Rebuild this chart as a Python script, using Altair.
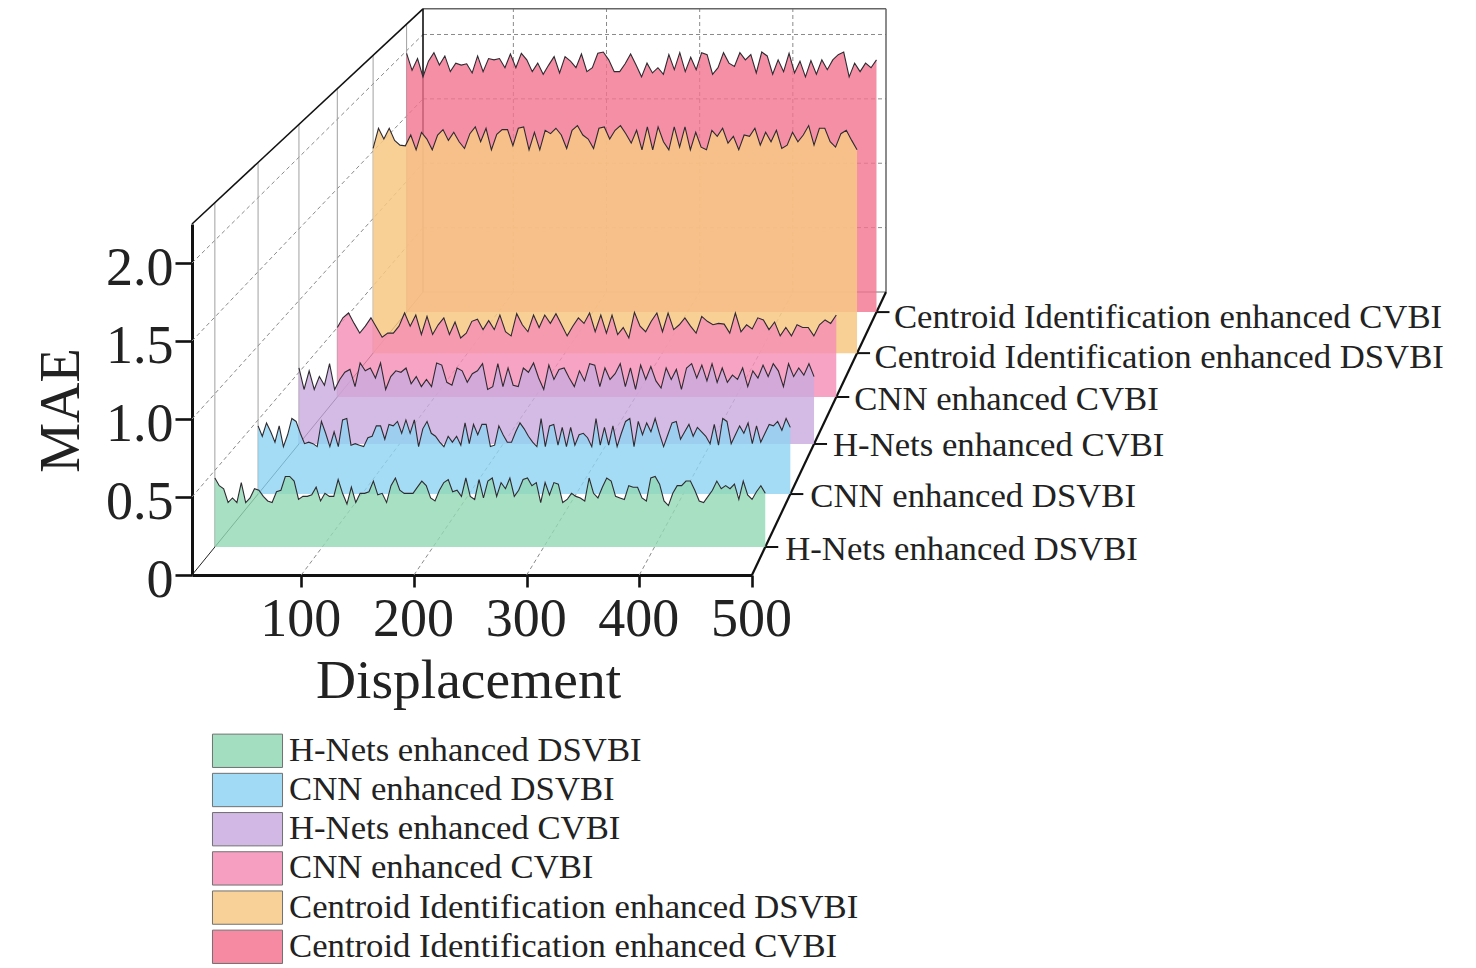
import altair as alt
import pandas as pd

names = ["H-Nets enhanced DSVBI", "CNN enhanced DSVBI", "H-Nets enhanced CVBI",
         "CNN enhanced CVBI", "Centroid Identification enhanced DSVBI",
         "Centroid Identification enhanced CVBI"]
colors = ["#92d8b5", "#8fd3f3", "#c9aadf", "#f58cb5", "#f7c884", "#f37390"]
fill_opacity = [0.8, 0.8, 0.8, 0.8, 0.85, 0.8]

green = [.45,.40,.38,.29,.32,.29,.42,.29,.32,.38,.37,.33,.30,.29,.36,.37,.46,.46,.43,.31,.33,.33,.34,.39,.30,.35,.33,.33,.44,.35,.28,.39,.29,.35,.35,.36,.43,.34,.35,.29,.40,.45,.37,.35,.35,.35,.39,.43,.40,.32,.30,.37,.42,.44,.36,.37,.33,.45,.33,.31,.44,.32,.43,
         .45,.33,.42,.38,.45,.33,.37,.44,.45,.40,.42,.29,.42,.34,.42,.41,.29,.31,.35,.33,.32,.30,.45,.35,.32,.39,.45,.43,.33,.32,.31,.40,.39,.39,.32,.30,.45,.46,.41,.30,.27,.35,.40,.40,.43,.43,.37,.30,.29,.33,.37,.43,.38,.40,.38,.41,.31,.43,.34,.31,.36,.40,.35]
blue = [.46,.39,.48,.42,.35,.46,.32,.40,.51,.49,.41,.34,.35,.34,.32,.49,.41,.32,.42,.32,.50,.51,.33,.34,.33,.32,.38,.39,.46,.46,.37,.47,.46,.49,.41,.50,.41,.50,.32,.44,.49,.41,.39,.35,.32,.39,.35,.39,.33,.48,.34,.47,.40,.47,.47,.32,.33,.46,.40,.35,.35,.42,.48,.44,.39,.35,.32,.51,.32,.46,.47,.33,.45,.32,.45,.33,.40,.41,.38,.32,.51,.33,.45,.33,.46,.32,.41,.49,.51,.32,.49,.40,.48,.42,.51,.41,.32,.40,.48,.49,.37,.42,.47,.39,.45,.42,.39,.34,.47,.33,.51,.49,.34,.40,.46,.41,.48,.34,.46,.35,.41,.47,.46,.49,.43,.51,.45]
purple = [.53,.38,.51,.38,.47,.41,.56,.38,.45,.50,.52,.40,.565,.51,.53,.46,.565,.38,.47,.51,.50,.53,.42,.47,.40,.45,.40,.565,.55,.43,.41,.53,.51,.43,.49,.51,.56,.38,.40,.56,.40,.53,.41,.40,.53,.50,.565,.46,.38,.55,.45,.52,.53,.46,.40,.51,.44,.56,.55,.40,.53,.45,.49,.56,.40,.53,.38,.55,.45,.54,.44,.39,.53,.45,.52,.38,.53,.56,.46,.55,.44,.56,.43,.53,.43,.48,.45,.53,.40,.51,.46,.55,.47,.56,.51,.40,.56,.47,.53,.48,.56,.47]
pink = [.50,.57,.605,.53,.46,.51,.57,.50,.43,.46,.46,.51,.605,.51,.59,.45,.58,.45,.52,.57,.45,.54,.425,.46,.545,.56,.485,.55,.485,.59,.47,.44,.60,.52,.47,.59,.50,.59,.53,.60,.52,.44,.51,.57,.53,.605,.47,.59,.46,.59,.45,.50,.425,.61,.51,.47,.545,.605,.47,.605,.485,.52,.57,.51,.46,.58,.545,.52,.53,.525,.46,.605,.47,.52,.49,.57,.555,.485,.54,.44,.50,.44,.52,.50,.50,.44,.52,.555,.53,.59]
orange = [1.52,1.67,1.59,1.67,1.58,1.545,1.54,1.62,1.51,1.64,1.59,1.51,1.62,1.66,1.58,1.64,1.57,1.52,1.63,1.68,1.57,1.67,1.51,1.625,1.66,1.66,1.54,1.67,1.68,1.51,1.64,1.51,1.655,1.63,1.67,1.62,1.52,1.655,1.69,1.62,1.59,1.52,1.67,1.68,1.59,1.655,1.69,1.63,1.56,1.655,1.51,1.68,1.51,1.68,1.57,1.51,1.68,1.53,1.68,1.51,1.64,1.53,1.51,1.655,1.61,1.67,1.56,1.61,1.51,1.62,1.61,1.67,1.545,1.64,1.57,1.655,1.52,1.545,1.64,1.57,1.62,1.69,1.545,1.67,1.67,1.57,1.53,1.63,1.655,1.58,1.51]
red = [1.98,1.85,1.94,1.80,1.92,1.985,1.89,1.96,1.84,1.905,1.89,1.90,1.83,1.96,1.84,1.94,1.93,1.94,1.87,1.975,1.87,1.98,1.93,1.84,1.905,1.82,1.89,1.955,1.83,1.955,1.92,1.87,1.975,1.84,1.87,1.98,1.99,1.93,1.84,1.84,1.90,1.975,1.89,1.80,1.905,1.83,1.87,1.82,1.97,1.855,1.985,1.84,1.95,1.855,1.985,1.97,1.82,1.87,1.985,1.905,1.88,1.985,1.93,1.97,1.83,1.99,1.96,1.82,1.93,1.84,1.98,1.83,1.92,1.80,1.925,1.82,1.93,1.855,1.93,1.97,1.99,1.80,1.905,1.84,1.905,1.87,1.93]
series_values = [green, blue, purple, pink, orange, red]

x_ticks = [100, 200, 300, 400, 500]
y_ticks = [0, 0.5, 1.0, 1.5, 2.0]

# view geometry (page pixels) of the oblique box
W, H = 1460, 960
D0, D1, M1 = 3, 500, 2.25
depths = [0.099, 0.286, 0.463, 0.629, 0.784, 0.929]
label_dx = [20, 20, 19, 18, 17.5, 17.5]
label_dy = [3, 3, 2, 3, 5, 6]
TOP = 0.8  # the page margin hides anything above this, so the wall tops end here

def xl(t): return 184 + 231 * t
def xr(t): return 744 + 134 * t
def yf(t): return 567 - 283 * t
def hh(t): return 351 - 61.3 * t
def P(d, m, t):
    return (xl(t) + (d - D0) / (D1 - D0) * (xr(t) - xl(t)), yf(t) - m / M1 * hh(t))
def Q(d, t):
    y0 = yf(0) - hh(0)
    return (P(d, 0, t)[0], y0 + (TOP - y0) * t)

def seg(a, b):
    return {"x": a[0], "y": a[1], "x2": b[0], "y2": b[1]}

sx = alt.Scale(domain=[0, W], range=[0, W])
sy = alt.Scale(domain=[0, H], range=[0, H])

def rules(segments, **style):
    return alt.Chart(pd.DataFrame(segments)).mark_rule(**style).encode(
        x=alt.X("x:Q", scale=sx, axis=None), y=alt.Y("y:Q", scale=sy, axis=None),
        x2="x2:Q", y2="y2:Q")

inner_m = [0.5, 1.0, 1.5, 2.0]
inner_d = [100, 200, 300, 400]
dash = dict(strokeDash=[4, 3], strokeWidth=1)
layers = [
    rules([seg(P(D0, m, 1), P(D1, m, 1)) for m in inner_m] +
          [seg(P(d, 0, 1), Q(d, 1)) for d in inner_d], color="#8a8a8a", **dash),
    rules([seg(P(D0, m, 0), P(D0, m, 1)) for m in inner_m] +
          [seg(P(d, 0, 0), P(d, 0, 1)) for d in inner_d], color="#8a8a8a", **dash),
    rules([seg(P(D0, 0, t), Q(D0, t)) for t in depths], color="#a0a0a0", strokeWidth=1),
    rules([seg(Q(D0, 1), Q(D1, 1)), seg(P(D1, 0, 1), Q(D1, 1))],
          color="#666666", strokeWidth=1.5),
    rules([seg(P(D0, 0, 1), P(D1, 0, 1))], color="#777777", strokeWidth=1),
    rules([seg(P(D0, 0, 0), P(D0, 0, 1))], color="#222222", strokeWidth=1),
    rules([seg(Q(D0, 0), Q(D0, 1)), seg(P(D0, 0, 1), Q(D0, 1))],
          color="#111111", strokeWidth=1.6),
    rules([seg(P(D1, 0, 0), P(D1, 0, 1))], color="#111111", strokeWidth=2.2),
    rules([seg(P(D1, 0, t), (P(D1, 0, t)[0] + 13, P(D1, 0, t)[1])) for t in depths],
          color="#111111", strokeWidth=2),
]

legend = alt.Legend(
    orient="none", legendX=222, legendY=725.3, title=None, symbolType="M-2.06,-0.98H2.06V0.98H-2.06Z",
    symbolSize=1156, symbolOpacity=0.83, symbolStrokeColor="#555555", symbolStrokeWidth=1,
    labelFont="Liberation Serif", labelFontSize=34.7, labelColor="#222222", labelOffset=24,
    rowPadding=0.2, labelLimit=700, symbolFillColor="#000000")

for i in range(5, -1, -1):
    vals = series_values[i]
    n = len(vals)
    df = pd.DataFrame({"disp": [D0 + k * (D1 - D0) / (n - 1) for k in range(n)],
                       "mae": vals, "series": names[i]})
    t = depths[i]
    x_s = alt.Scale(domain=[D0, D1], range=[P(D0, 0, t)[0], P(D1, 0, t)[0]])
    y_s = alt.Scale(domain=[0, M1], range=[P(D0, 0, t)[1], P(D0, M1, t)[1]])
    enc = dict(x=alt.X("disp:Q", scale=x_s, axis=None), y=alt.Y("mae:Q", scale=y_s, axis=None))
    layers.append(alt.Chart(df).mark_area(opacity=fill_opacity[i], interpolate="linear").encode(
        color=alt.Color("series:N", scale=alt.Scale(domain=names, range=colors), legend=legend), **enc))
    layers.append(alt.Chart(df).mark_line(color="#2e2a30", strokeWidth=1.1, interpolate="linear").encode(**enc))

# real axes along the front edges of the box
axis_df = pd.DataFrame({"disp": x_ticks, "mae": y_ticks})
font = dict(labelFont="Liberation Serif", titleFont="Liberation Serif", labelColor="#222222",
            titleColor="#222222", titleFontWeight="normal", domainColor="#111111", tickColor="#111111",
            grid=False, labelFontSize=54)
layers.append(alt.Chart(axis_df).mark_point(opacity=0).encode(
    x=alt.X("disp:Q", title="Displacement",
            scale=alt.Scale(domain=[D0, D1], range=[P(D0, 0, 0)[0], P(D1, 0, 0)[0]]),
            axis=alt.Axis(orient="bottom", offset=-(H - yf(0)), values=x_ticks, format="d", tickSize=12,
                          tickWidth=2.6, domainWidth=3, labelPadding=5, labelFlush=False, labelOverlap=False,
                          labelOffset=-1, titlePadding=7, titleFontSize=55.5, titleX=460, **font)),
    y=alt.Y("mae:Q", title="MAE",
            scale=alt.Scale(domain=[0, M1], range=[yf(0), yf(0) - hh(0)]),
            axis=alt.Axis(orient="left", offset=-xl(0), values=y_ticks, tickSize=17, tickWidth=2.6,
                          domainWidth=3, labelPadding=2, labelOverlap=False, labelOffset=5,
                          labelExpr="datum.value == 0 ? '0' : format(datum.value, '.1f')",
                          titlePadding=15, titleFontSize=56, titleY=402, **font))))

labels = pd.DataFrame({
    "x": [P(D1, 0, t)[0] + dx for t, dx in zip(depths, label_dx)],
    "y": [P(D1, 0, t)[1] + dy for t, dy in zip(depths, label_dy)],
    "name": names})
layers.append(alt.Chart(labels).mark_text(
    font="Liberation Serif", fontSize=34.7, align="left", baseline="middle", color="#222222").encode(
    x=alt.X("x:Q", scale=sx, axis=None), y=alt.Y("y:Q", scale=sy, axis=None), text="name:N"))

chart = alt.layer(*layers).resolve_scale(x="independent", y="independent").properties(
    width=W, height=H, padding=0, autosize=alt.AutoSizeParams(type="none")
).configure_view(stroke=None)

chart.save("out.html", embed_options={"renderer": "svg", "actions": False})
